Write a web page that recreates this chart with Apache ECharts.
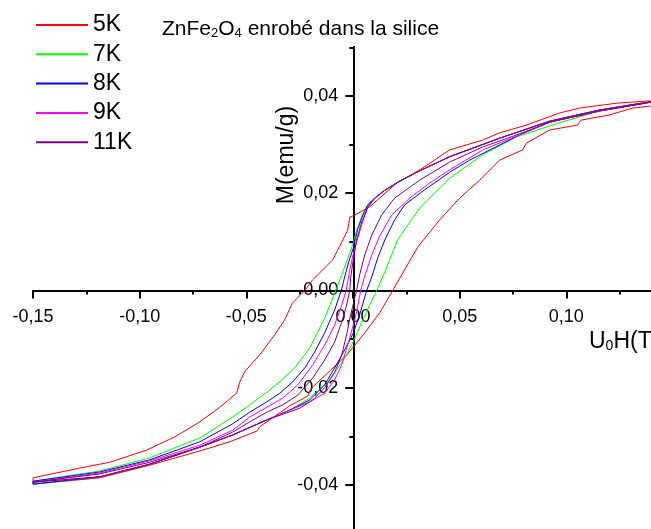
<!DOCTYPE html>
<html><head><meta charset="utf-8">
<script src="https://cdn.jsdelivr.net/npm/echarts@6/dist/echarts.min.js"></script>
<style>html,body{margin:0;padding:0;background:#fff}#c{width:651px;height:529px}</style>
</head><body><div id="c"></div>
<script>
// Temperatures (legend)
const seriesNames = ['5K', '7K', '8K', '9K', '11K'];
const seriesColors = ['#ff0000', '#00ff00', '#0000ff', '#ff00ff', '#800080'];

// Hysteresis loops: [U0H (T), M (emu/g)] ; "Desc" = field decreasing branch, "Asc" = field increasing branch
const k5Desc = [[0.1395,0.0390],[0.1236,0.0385],[0.1062,0.0375],[0.0969,0.0365],[0.0813,0.0340],[0.0687,0.0324],[0.0607,0.0309],[0.0453,0.0289],[0.0313,0.0248],[0.0205,0.0221],[0.0078,0.0172],[0.0008,0.0155],[-0.0015,0.0151],[-0.0025,0.0124],[-0.0095,0.0063],[-0.0189,0.0022],[-0.0226,0.0000],[-0.0283,-0.0025],[-0.0320,-0.0060],[-0.0367,-0.0091],[-0.0437,-0.0132],[-0.0508,-0.0167],[-0.0531,-0.0188],[-0.0545,-0.0211],[-0.0625,-0.0240],[-0.0718,-0.0270],[-0.0836,-0.0301],[-0.0967,-0.0328],[-0.1140,-0.0353],[-0.1281,-0.0365],[-0.1500,-0.0385]];
const k5Asc = [[-0.1500,-0.0398],[-0.1187,-0.0385],[-0.0953,-0.0359],[-0.0704,-0.0328],[-0.0578,-0.0311],[-0.0451,-0.0289],[-0.0437,-0.0280],[-0.0297,-0.0237],[-0.0212,-0.0217],[-0.0198,-0.0202],[-0.0030,-0.0133],[0.0055,-0.0087],[0.0125,-0.0046],[0.0186,0.0000],[0.0303,0.0089],[0.0406,0.0145],[0.0500,0.0190],[0.0594,0.0227],[0.0687,0.0268],[0.0795,0.0289],[0.0813,0.0303],[0.0922,0.0330],[0.1053,0.0340],[0.1067,0.0350],[0.1203,0.0361],[0.1311,0.0375],[0.1395,0.0379]];

const k7Desc = [[0.1395,0.0388],[0.1156,0.0371],[0.0922,0.0348],[0.0687,0.0313],[0.0453,0.0275],[0.0313,0.0246],[0.0219,0.0225],[0.0149,0.0206],[0.0102,0.0190],[0.0069,0.0176],[0.0045,0.0157],[0.0017,0.0124],[0.0000,0.0096],[-0.0025,0.0065],[-0.0053,0.0032],[-0.0081,0.0000],[-0.0133,-0.0057],[-0.0203,-0.0118],[-0.0273,-0.0159],[-0.0334,-0.0184],[-0.0404,-0.0209],[-0.0484,-0.0235],[-0.0564,-0.0260],[-0.0718,-0.0303],[-0.0953,-0.0344],[-0.1187,-0.0371],[-0.1500,-0.0392]];
const k7Asc = [[-0.1500,-0.0398],[-0.1187,-0.0383],[-0.0953,-0.0357],[-0.0718,-0.0322],[-0.0564,-0.0297],[-0.0404,-0.0266],[-0.0297,-0.0246],[-0.0203,-0.0221],[-0.0109,-0.0184],[-0.0039,-0.0139],[0.0000,-0.0106],[0.0041,-0.0065],[0.0078,-0.0030],[0.0111,0.0000],[0.0149,0.0038],[0.0209,0.0104],[0.0313,0.0170],[0.0453,0.0231],[0.0608,0.0279],[0.0767,0.0316],[0.0969,0.0345],[0.1156,0.0369],[0.1395,0.0387]];

const k8Desc = [[0.1395,0.0388],[0.1156,0.0371],[0.0922,0.0348],[0.0687,0.0313],[0.0453,0.0275],[0.0313,0.0246],[0.0219,0.0225],[0.0149,0.0206],[0.0102,0.0190],[0.0069,0.0176],[0.0045,0.0153],[0.0022,0.0126],[0.0000,0.0085],[-0.0020,0.0059],[-0.0039,0.0028],[-0.0055,0.0000],[-0.0086,-0.0040],[-0.0133,-0.0087],[-0.0179,-0.0126],[-0.0226,-0.0159],[-0.0283,-0.0188],[-0.0343,-0.0211],[-0.0404,-0.0229],[-0.0484,-0.0250],[-0.0564,-0.0274],[-0.0718,-0.0311],[-0.0953,-0.0348],[-0.1187,-0.0373],[-0.1500,-0.0392]];
const k8Asc = [[-0.1500,-0.0398],[-0.1187,-0.0383],[-0.0953,-0.0357],[-0.0718,-0.0322],[-0.0564,-0.0297],[-0.0404,-0.0266],[-0.0297,-0.0246],[-0.0203,-0.0225],[-0.0133,-0.0194],[-0.0086,-0.0159],[-0.0039,-0.0122],[0.0000,-0.0089],[0.0031,-0.0050],[0.0064,0.0000],[0.0088,0.0028],[0.0116,0.0067],[0.0149,0.0104],[0.0195,0.0145],[0.0242,0.0176],[0.0336,0.0207],[0.0453,0.0243],[0.0547,0.0268],[0.0687,0.0299],[0.0781,0.0320],[0.0922,0.0346],[0.1156,0.0369],[0.1395,0.0387]];

const k9Desc = [[0.1395,0.0388],[0.1156,0.0371],[0.0922,0.0348],[0.0687,0.0313],[0.0453,0.0275],[0.0313,0.0246],[0.0219,0.0225],[0.0149,0.0206],[0.0102,0.0190],[0.0069,0.0172],[0.0041,0.0135],[0.0017,0.0100],[0.0000,0.0073],[-0.0015,0.0042],[-0.0032,0.0000],[-0.0053,-0.0030],[-0.0086,-0.0071],[-0.0133,-0.0112],[-0.0189,-0.0153],[-0.0259,-0.0194],[-0.0329,-0.0221],[-0.0404,-0.0240],[-0.0484,-0.0260],[-0.0564,-0.0287],[-0.0718,-0.0318],[-0.0953,-0.0350],[-0.1187,-0.0375],[-0.1500,-0.0394]];
const k9Asc = [[-0.1500,-0.0398],[-0.1187,-0.0383],[-0.0953,-0.0357],[-0.0718,-0.0322],[-0.0564,-0.0297],[-0.0404,-0.0266],[-0.0297,-0.0246],[-0.0203,-0.0229],[-0.0133,-0.0211],[-0.0086,-0.0184],[-0.0053,-0.0153],[-0.0025,-0.0112],[0.0000,-0.0073],[0.0017,-0.0044],[0.0036,0.0000],[0.0055,0.0030],[0.0088,0.0073],[0.0125,0.0112],[0.0181,0.0155],[0.0266,0.0190],[0.0359,0.0221],[0.0453,0.0248],[0.0608,0.0289],[0.0781,0.0320],[0.0922,0.0346],[0.1156,0.0369],[0.1395,0.0387]];

const k11Desc = [[0.1395,0.0388],[0.1156,0.0371],[0.0922,0.0348],[0.0687,0.0313],[0.0453,0.0275],[0.0313,0.0246],[0.0219,0.0225],[0.0149,0.0206],[0.0102,0.0190],[0.0069,0.0170],[0.0041,0.0141],[0.0017,0.0104],[0.0000,0.0059],[-0.0011,0.0026],[-0.0015,0.0000],[-0.0030,-0.0030],[-0.0053,-0.0065],[-0.0086,-0.0106],[-0.0133,-0.0143],[-0.0189,-0.0180],[-0.0259,-0.0215],[-0.0329,-0.0235],[-0.0404,-0.0250],[-0.0484,-0.0270],[-0.0564,-0.0291],[-0.0718,-0.0322],[-0.0953,-0.0353],[-0.1187,-0.0377],[-0.1500,-0.0394]];
const k11Asc = [[-0.1500,-0.0398],[-0.1187,-0.0383],[-0.0953,-0.0357],[-0.0718,-0.0322],[-0.0564,-0.0297],[-0.0404,-0.0266],[-0.0250,-0.0242],[-0.0189,-0.0225],[-0.0133,-0.0200],[-0.0086,-0.0168],[-0.0053,-0.0133],[-0.0030,-0.0091],[-0.0011,-0.0050],[0.0000,-0.0030],[0.0008,-0.0015],[0.0017,0.0000],[0.0031,0.0032],[0.0055,0.0073],[0.0088,0.0114],[0.0134,0.0155],[0.0195,0.0190],[0.0313,0.0227],[0.0453,0.0264],[0.0608,0.0295],[0.0781,0.0322],[0.0922,0.0346],[0.1156,0.0369],[0.1395,0.0387]];

const loops = [k5Desc.concat(k5Asc), k7Desc.concat(k7Asc), k8Desc.concat(k8Asc), k9Desc.concat(k9Asc), k11Desc.concat(k11Asc)];

const FONT = 'Arial, "Liberation Sans", sans-serif';
const fmt = v => (Math.abs(v) < 1e-9 ? 0 : v).toFixed(2).replace('.', ',');
const fmtY = v => (Math.abs(v) > 0.055 ? '' : fmt(v));

const chart = echarts.init(document.getElementById('c'), null, {renderer: 'canvas'});
const axisCommon = {
  type: 'value',
  axisLine: {onZero: false, lineStyle: {color: '#000', width: 2}},
  axisTick: {show: true, length: 8, lineStyle: {color: '#000', width: 2}},
  minorTick: {show: true, splitNumber: 2, length: 4, lineStyle: {color: '#000', width: 2}},
  splitLine: {show: false},
  minorSplitLine: {show: false}
};
chart.setOption({
  animation: false,
  backgroundColor: '#fff',
  title: {
    text: '{a|ZnFe}{s|2}{a|O}{s|4}{a| enrobé dans la silice}',
    left: 162, top: 12, padding: 0, z: 10,
    textStyle: {
      fontWeight: 'normal',
      rich: {
        a: {fontSize: 21, fontFamily: FONT, fontWeight: 'normal', color: '#000', lineHeight: 28, verticalAlign: 'bottom'},
        s: {fontSize: 13, fontFamily: FONT, fontWeight: 'normal', color: '#000', lineHeight: 12, verticalAlign: 'bottom'}
      }
    }
  },
  legend: {
    data: seriesNames, orient: 'vertical', left: 35, top: 13.5, padding: 0,
    itemWidth: 52, itemHeight: 14, itemGap: 6.3, z: 10,
    itemStyle: {opacity: 0},
    textStyle: {fontSize: 23, color: '#000', fontFamily: FONT}
  },
  grid: {left: 33, right: -22, top: -1.4, bottom: -53.4, containLabel: false, outerBoundsMode: 'none'},
  xAxis: Object.assign({}, axisCommon, {
    position: 'bottom', offset: -291.9,
    min: -0.15, max: 0.15, interval: 0.05,
    axisLabel: {formatter: fmt, fontSize: 18, color: '#000', fontFamily: FONT, margin: 18}
  }),
  yAxis: Object.assign({}, axisCommon, {
    position: 'left', offset: -320.3,
    min: -0.06, max: 0.06, interval: 0.02,
    axisLabel: {formatter: fmtY, fontSize: 18, color: '#000', fontFamily: FONT, margin: 15}
  }),
  graphic: [
    {type: 'rect', shape: {x: 340, y: -5, width: 25, height: 51}, style: {fill: '#fff'}, z: 1, silent: true},
    {type: 'text', x: 287, y: 155, rotation: Math.PI / 2, z: 10,
      style: {text: 'M(emu/g)', x: 0, y: 0, align: 'center', verticalAlign: 'middle', font: '23px ' + FONT, fill: '#000'}},
    {type: 'text', x: 589, y: 325, z: 10,
      style: {text: '{a|U}{s|0}{a|H(T)}', x: 0, y: 0,
        rich: {
          a: {fontSize: 23, fontFamily: FONT, fill: '#000', color: '#000', lineHeight: 28, verticalAlign: 'bottom'},
          s: {fontSize: 14, fontFamily: FONT, fill: '#000', color: '#000', lineHeight: 5, verticalAlign: 'bottom'}
        }}}
  ],
  series: seriesNames.map((n, i) => ({
    name: n, type: 'line', data: loops[i], symbol: 'none', smooth: false,
    lineStyle: {color: seriesColors[i], width: 1}, itemStyle: {color: seriesColors[i]},
    clip: true
  }))
});
</script></body></html>
